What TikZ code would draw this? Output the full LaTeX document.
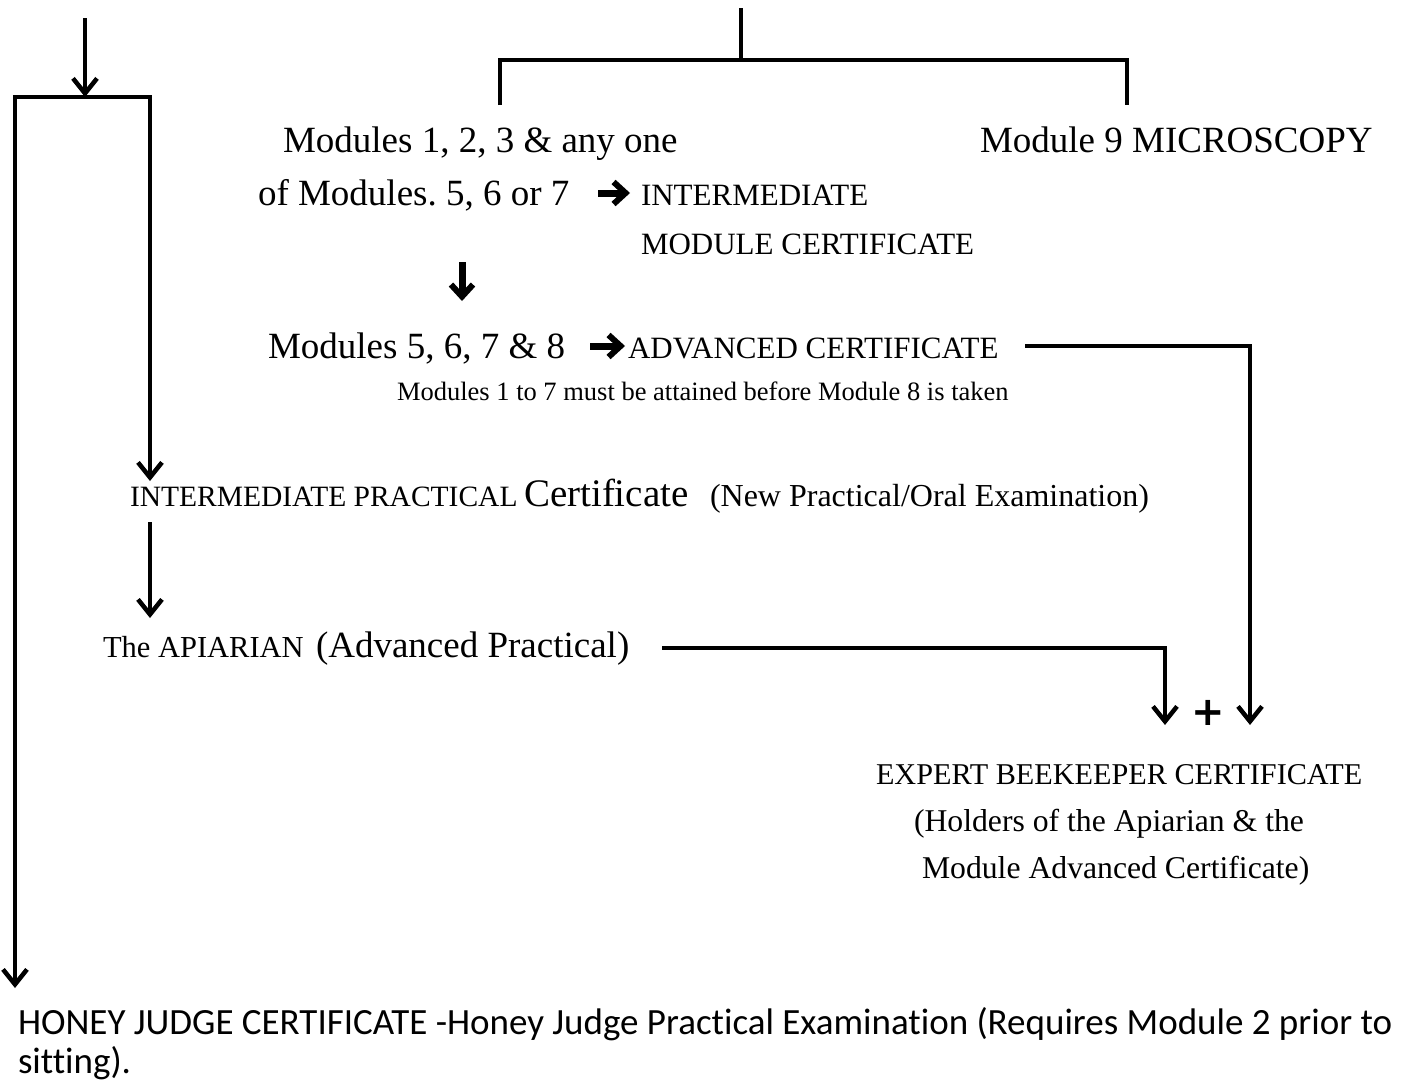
\documentclass[tikz,border=0pt]{standalone}
\usepackage{fontspec}
\setmainfont{Liberation Serif}
\newfontfamily\calib[Ligatures=NoCommon]{Carlito}
\newfontfamily\djv{DejaVu Sans}
\usetikzlibrary{arrows.meta}
\frenchspacing
\newcommand{\fs}[1]{\fontsize{#1}{#1}\selectfont}
\tikzset{
  txt/.style={anchor=base west, inner sep=0pt, outer sep=0pt},
  big/.style={txt, font=\fs{37}},
  mid/.style={txt, font=\fs{31}},
  conn/.style={line width=4.5pt, line cap=butt, line join=miter},
  arr/.style={conn, -{Straight Barb[length=15pt,width=24pt,line width=4.5pt]}},
  fatarr/.style={line width=7pt, -{Straight Barb[length=12pt,width=22pt,line width=6pt]}},
}
\begin{document}
\begin{tikzpicture}[x=1pt,y=-1pt]
\useasboundingbox (0,0) rectangle (1416,1084);

% ---- text nodes ----
\node[big] (m123) at (283,152) {Modules 1, 2, 3 \& any one};
\node[big] (m9) at (980,152) {Module 9 MICROSCOPY};
\node[big] (of567) at (258,205) {of Modules. 5, 6 or 7};
\node[mid] (inter) at (641,205) {INTERMEDIATE};
\node[mid] (modcert) at (641,254) {MODULE CERTIFICATE};
\node[big] (m5678) at (268,358) {Modules 5, 6, 7 \& 8};
\node[mid] (adv) at (628,358) {ADVANCED CERTIFICATE};
\node[txt, font=\fs{26.5}] (note) at (397,400) {Modules 1 to 7 must be attained before Module 8 is taken};
\node[txt, font=\fs{29.5}] (ip) at (130,506) {INTERMEDIATE PRACTICAL};
\node[txt, font=\fs{39}] (cert) at (524,506) {Certificate};
\node[txt, font=\fs{32}] (npo) at (710,506) {(New Practical/Oral Examination)};
\node[txt, font=\fs{30.5}] (api) at (103,657) {The APIARIAN};
\node[big] (advp) at (316,657) {(Advanced Practical)};
\node[inner sep=0pt, font=\djv\bfseries\fs{40}] (plus) at (1208,713) {+};
\node[txt, font=\fs{30.2}] (exp) at (876,784) {EXPERT BEEKEEPER CERTIFICATE};
\node[txt, font=\fs{31.7}] (hold) at (914,831) {(Holders of the Apiarian \& the};
\node[txt, font=\fs{31.7}] (modadv) at (922,878) {Module Advanced Certificate)};
\node[txt, font=\calib\fs{37}] (honey) at (18,1034) {HONEY JUDGE CERTIFICATE -Honey Judge Practical Examination (Requires Module 2 prior to};
\node[txt, font=\calib\fs{37}] (sit) at (18,1073) {sitting).};

% ---- coordinates ----
\coordinate (tlTop) at (85,18);
\coordinate (tlBar) at (85,97);
\coordinate (barL) at (15,97);
\coordinate (barR) at (150,97);
\coordinate (honeyTip) at (15,988);
\coordinate (ipTip) at (150,481);
\coordinate (ipBot) at (150,522);
\coordinate (apiTip) at (150,618);
\coordinate (stemTop) at (741,8);
\coordinate (stemBot) at (741,60);
\coordinate (brL) at (500,105);
\coordinate (brR) at (1127,105);
\coordinate (dnTop) at (462,262);
\coordinate (dnTip) at (462,301);
\coordinate (ra1s) at (598,193);
\coordinate (ra1e) at (630,193);
\coordinate (ra2s) at (590,346);
\coordinate (ra2e) at (625,346);
\coordinate (advStart) at (1025,346);
\coordinate (advCorner) at (1250,346);
\coordinate (advTip) at (1250,725);
\coordinate (apiStart) at (662,648);
\coordinate (apiCorner) at (1165,648);
\coordinate (apiTip2) at (1165,725);

% ---- connectors ----
\draw[arr] (tlTop) -- (tlBar);
\draw[conn] ([xshift=-2.25pt]barL) -- ([xshift=2.25pt]barR);
\draw[arr] (barL) -- (honeyTip);
\draw[arr] (barR) -- (ipTip);
\draw[arr] (ipBot) -- (apiTip);
\draw[conn] (stemTop) -- (stemBot);
\draw[conn] (brL) |- (stemBot) -| (brR);
\draw[fatarr] (dnTop) -- (dnTip);
\draw[fatarr] (ra1s) -- (ra1e);
\draw[fatarr] (ra2s) -- (ra2e);
\draw[arr] (advStart) -- (advCorner) -- (advTip);
\draw[arr] (apiStart) -- (apiCorner) -- (apiTip2);
\end{tikzpicture}
\end{document}
